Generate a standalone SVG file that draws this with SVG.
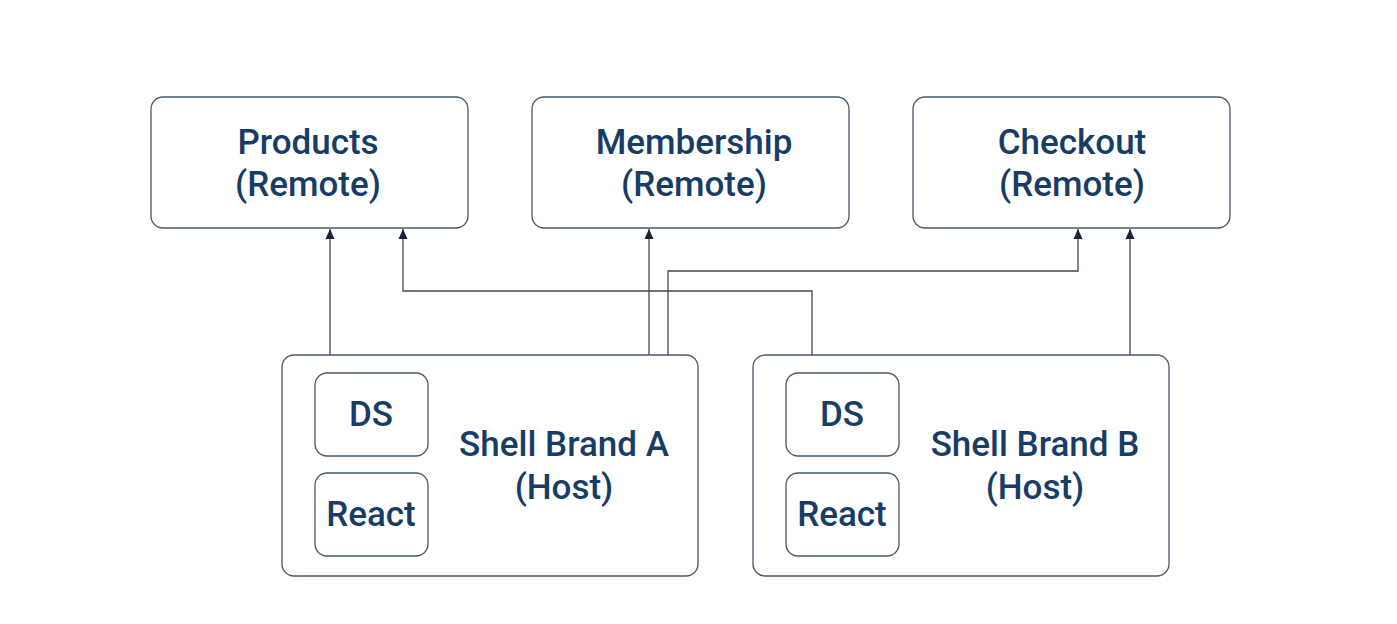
<svg xmlns="http://www.w3.org/2000/svg" width="1397" height="624" viewBox="0 0 1397 624">
<style>
.box{fill:#ffffff;stroke:#4a5869;stroke-width:1.3}
.t{font-family:Roboto,"Liberation Sans",sans-serif;font-weight:500;font-size:35px;fill:#173c66;text-anchor:middle}
.c{fill:none;stroke:#3e4a58;stroke-width:1.3}
</style>
<defs>
<marker id="ah" viewBox="0 0 10 10" refX="10" refY="5" markerWidth="10" markerHeight="10" markerUnits="userSpaceOnUse" orient="auto">
<path d="M0,0.5 L10,5 L0,9.5 Z" fill="#14243a"/>
</marker>
</defs>
<rect width="1397" height="624" fill="#ffffff"/>
<g id="products">
<rect class="box" x="151" y="97" width="317" height="131" rx="12"/>
<text class="t" x="308" y="154">Products</text>
<text class="t" x="308" y="196">(Remote)</text>
</g>
<g id="membership">
<rect class="box" x="532" y="97" width="317" height="131" rx="12"/>
<text class="t" x="694" y="154">Membership</text>
<text class="t" x="694" y="196">(Remote)</text>
</g>
<g id="checkout">
<rect class="box" x="913" y="97" width="317" height="131" rx="12"/>
<text class="t" x="1072" y="154">Checkout</text>
<text class="t" x="1072" y="196">(Remote)</text>
</g>
<g id="hostA">
<rect class="box" x="282" y="355" width="416" height="221" rx="12"/>
<text class="t" x="564" y="456">Shell Brand A</text>
<text class="t" x="564" y="499">(Host)</text>
</g>
<g id="dsA">
<rect class="box" x="315" y="373" width="113" height="83" rx="12"/>
<text class="t" x="371" y="426">DS</text>
</g>
<g id="reactA">
<rect class="box" x="315" y="473" width="113" height="83" rx="12"/>
<text class="t" x="371" y="526">React</text>
</g>
<g id="hostB">
<rect class="box" x="753" y="355" width="416" height="221" rx="12"/>
<text class="t" x="1035" y="456">Shell Brand B</text>
<text class="t" x="1035" y="499">(Host)</text>
</g>
<g id="dsB">
<rect class="box" x="786" y="373" width="113" height="83" rx="12"/>
<text class="t" x="842" y="426">DS</text>
</g>
<g id="reactB">
<rect class="box" x="786" y="473" width="113" height="83" rx="12"/>
<text class="t" x="842" y="526">React</text>
</g>
<g id="connectors">
<path class="c" d="M330,355 V229" marker-end="url(#ah)"/>
<path class="c" d="M812,355 V291 H403 V229" marker-end="url(#ah)"/>
<path class="c" d="M649,355 V229" marker-end="url(#ah)"/>
<path class="c" d="M668,355 V271 H1078 V229" marker-end="url(#ah)"/>
<path class="c" d="M1130,355 V229" marker-end="url(#ah)"/>
</g>
</svg>
